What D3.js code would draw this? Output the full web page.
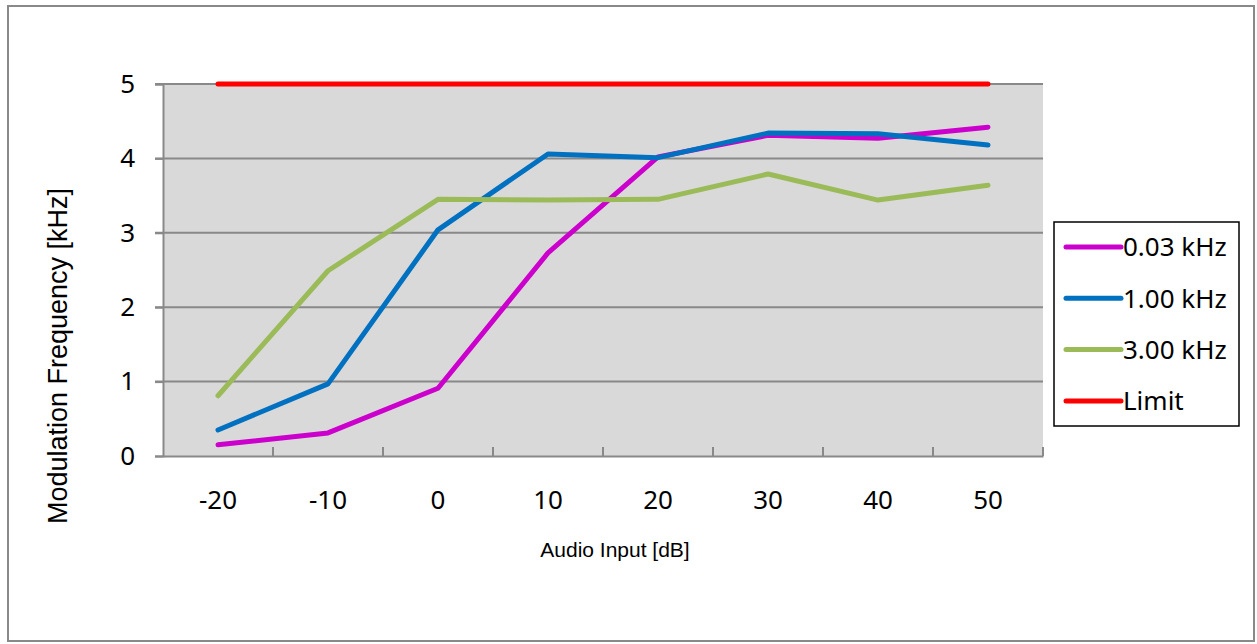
<!DOCTYPE html>
<meta charset="utf-8">
<style>
  body { margin: 0; background: #fff; }
  .tick text { font-family: "Noto Sans", "Open Sans", sans-serif; font-size: 26px; fill: #000; }
  .legend text { font-family: "Noto Sans", "Open Sans", sans-serif; font-size: 26px; }
  .title { font-family: "Liberation Sans", Arial, sans-serif; fill: #000; }
</style>
<svg class="chart" width="1257" height="644"></svg>
<script src="https://cdnjs.cloudflare.com/ajax/libs/d3/7.8.5/d3.min.js"></script>
<script>

  var categories = ["-20", "-10", "0", "10", "20", "30", "40", "50"];
  var yTicks = [0, 1, 2, 3, 4, 5];

  var seriesNames = ["0.03 kHz", "1.00 kHz", "3.00 kHz", "Limit"];
  var seriesColors = ["#cc00cc", "#0070c0", "#9bbb59", "#ff0000"];

  var khz003 = [0.15, 0.31, 0.91, 2.73, 4.02, 4.31, 4.27, 4.42];
  var khz100 = [0.35, 0.97, 3.04, 4.06, 4.01, 4.34, 4.33, 4.18];
  var khz300 = [0.81, 2.49, 3.45, 3.44, 3.45, 3.79, 3.44, 3.64];
  var limit  = [5, 5, 5, 5, 5, 5, 5, 5];

  var seriesValues = [khz003, khz100, khz300, limit];

  var svg = d3.select(".chart");

  // outer chart frame
  svg.append("rect")
      .attr("x", 8).attr("y", 6)
      .attr("width", 1246).attr("height", 635)
      .attr("fill", "#fff")
      .attr("stroke", "#898989")
      .attr("stroke-width", 2);

  var plotLeft = 163, plotRight = 1043, plotTop = 84, plotBottom = 456;

  var x = d3.scaleBand()
      .domain(categories)
      .range([plotLeft, plotRight]);

  var y = d3.scaleLinear()
      .domain([0, 5])
      .range([plotBottom, plotTop]);

  svg.append("rect")
      .attr("x", plotLeft).attr("y", plotTop)
      .attr("width", plotRight - plotLeft).attr("height", plotBottom - plotTop)
      .attr("fill", "#d9d9d9");

  // gridlines
  svg.append("g")
      .selectAll("line")
      .data(yTicks.filter(function (d) { return d > 0; }))
      .enter().append("line")
        .attr("x1", plotLeft - 8).attr("x2", plotRight)
        .attr("y1", function (d) { return y(d); })
        .attr("y2", function (d) { return y(d); })
        .attr("stroke", "#898989")
        .attr("stroke-width", 2);

  // y axis
  var yAxis = svg.append("g")
      .attr("transform", "translate(" + plotLeft + ",0)")
      .call(d3.axisLeft(y).tickValues(yTicks).tickFormat(d3.format("d")).tickSize(8).tickPadding(20));
  yAxis.select(".domain").attr("stroke", "#898989").attr("stroke-width", 2);
  yAxis.selectAll(".tick line").attr("stroke", "#898989").attr("stroke-width", 2);

  // x axis with ticks between categories, pointing up
  var xAxis = svg.append("g")
      .attr("transform", "translate(0," + plotBottom + ")")
      .call(d3.axisBottom(x).tickSize(0).tickPadding(35));
  xAxis.select(".domain").attr("stroke", "#898989").attr("stroke-width", 2);
  xAxis.append("g")
      .selectAll("line")
      .data(categories.slice(1))
      .enter().append("line")
        .attr("x1", function (d) { return x(d); })
        .attr("x2", function (d) { return x(d); })
        .attr("y1", 0).attr("y2", -9)
        .attr("stroke", "#898989")
        .attr("stroke-width", 2);
  svg.append("line")
      .attr("x1", plotRight).attr("x2", plotRight)
      .attr("y1", plotBottom).attr("y2", plotBottom - 9)
      .attr("stroke", "#898989").attr("stroke-width", 2);

  var line = d3.line()
      .x(function (d, i) { return x(categories[i]) + x.bandwidth() / 2; })
      .y(function (d) { return y(d); });

  svg.append("g")
      .selectAll("path")
      .data(seriesValues)
      .enter().append("path")
        .attr("d", line)
        .attr("fill", "none")
        .attr("stroke", function (d, i) { return seriesColors[i]; })
        .attr("stroke-width", 5)
        .attr("stroke-linecap", "round")
        .attr("stroke-linejoin", "round");

  // axis titles
  svg.append("text")
      .attr("class", "title")
      .attr("transform", "translate(67,356) rotate(-90)")
      .attr("text-anchor", "middle")
      .style("font-size", "27px")
      .text("Modulation Frequency [kHz]");

  svg.append("text")
      .attr("class", "title")
      .attr("x", 615).attr("y", 557)
      .attr("text-anchor", "middle")
      .style("font-size", "21px")
      .text("Audio Input [dB]");

  // legend
  var legend = svg.append("g")
      .attr("class", "legend")
      .attr("transform", "translate(1054,222)");
  legend.append("rect")
      .attr("width", 185).attr("height", 204)
      .attr("fill", "#fff")
      .attr("stroke", "#000")
      .attr("stroke-width", 1.5);
  var item = legend.selectAll(".item")
      .data(seriesNames)
      .enter().append("g")
        .attr("class", "item")
        .attr("transform", function (d, i) { return "translate(0," + (25 + i * 51.3) + ")"; });
  item.append("line")
      .attr("x1", 12).attr("x2", 67)
      .attr("stroke", function (d, i) { return seriesColors[i]; })
      .attr("stroke-width", 5)
      .attr("stroke-linecap", "round");
  item.append("text")
      .attr("x", 69).attr("dy", "0.36em")
      .text(function (d) { return d; });

</script>
